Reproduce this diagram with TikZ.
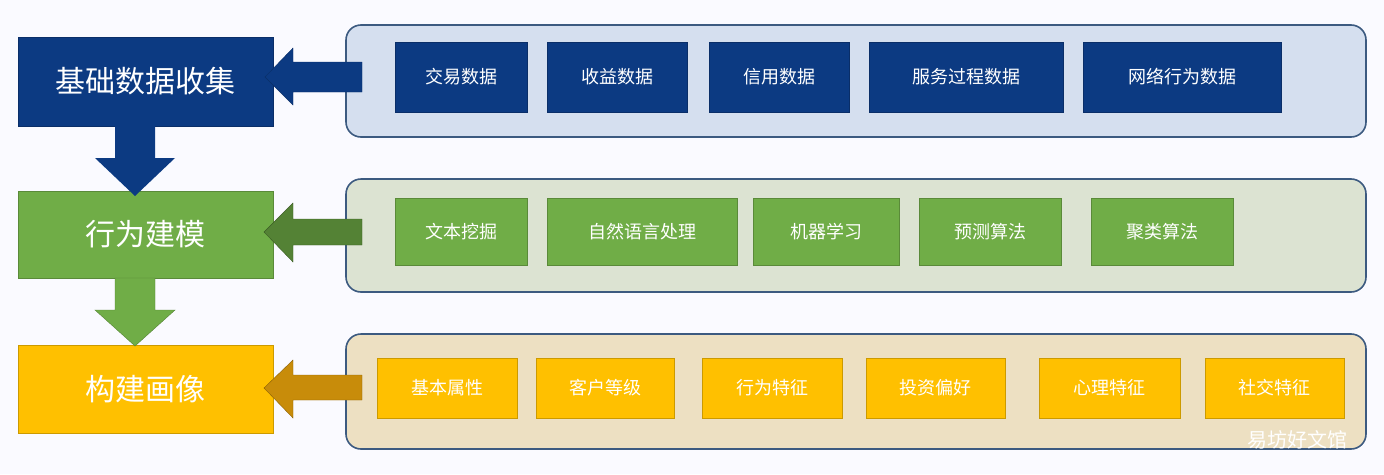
\documentclass[tikz,border=0pt]{standalone}
\usepackage{fontspec}
\setmainfont{Noto Sans CJK SC}
\begin{document}
\begin{tikzpicture}[x=1pt,y=-1pt,
  main/.style={draw=#1!80!black,fill=#1,minimum width=255pt,text=white,font=\fontsize{30}{34}\selectfont,inner sep=0pt},
  panel/.style={rounded corners=15pt,draw=#1,line width=1.6pt},
  item/.style={fill=#1,draw=#1!80!black,text=white,font=\fontsize{18}{20}\selectfont,inner sep=0pt}]
\definecolor{navy}{RGB}{12,58,130}
\definecolor{gr}{RGB}{112,173,71}
\definecolor{dgr}{RGB}{84,130,53}
\definecolor{yel}{RGB}{255,192,0}
\definecolor{dyel}{RGB}{200,140,10}
\definecolor{pb}{RGB}{213,223,239}
\definecolor{pg}{RGB}{220,227,210}
\definecolor{py}{RGB}{237,224,194}
\definecolor{pbor}{RGB}{60,90,128}
\fill[white!95!blue!40!white] (0,0) rectangle (1384,474);
\useasboundingbox (0,0) rectangle (1384,474);
% panels
\draw[panel=pbor,fill=pb] (346,25) rectangle (1366,137);
\draw[panel=pbor,fill=pg] (346,179) rectangle (1366,292);
\draw[panel=pbor,fill=py] (346,334) rectangle (1366,449);
% main boxes
\node[main=navy,minimum height=89pt] (m1) at (145.5,81.5) {基础数据收集};
\node[main=gr,minimum height=87pt] (m2) at (145.5,234.5) {行为建模};
\node[main=yel,minimum height=88pt] (m3) at (145.5,389) {构建画像};
% down arrows
\fill[navy] (115,126) -- (155,126) -- (155,158) -- (175,158) -- (135,196) -- (95,158) -- (115,158) -- cycle;
\draw[dgr,fill=gr] (115,278) -- (155,278) -- (155,310) -- (175,310) -- (135,346) -- (95,310) -- (115,310) -- cycle;
% left arrows
\draw[navy!80!black,fill=navy] (362,62) -- (293,62) -- (293,48) -- (265,77) -- (293,105) -- (293,92) -- (362,92) -- cycle;
\draw[dgr!70!black,fill=dgr] (362,219) -- (293,219) -- (293,203) -- (264,232) -- (293,262) -- (293,245) -- (362,245) -- cycle;
\draw[dyel!70!black,fill=dyel] (362,375) -- (293,375) -- (293,360) -- (264,388) -- (293,418) -- (293,400) -- (362,400) -- cycle;
% items
\foreach \a/\b/\t [count=\i] in {395/527/交易数据,547/687/收益数据,709/849/信用数据,869/1063/服务过程数据,1083/1281/网络行为数据}
  \node[item=navy,minimum width=\b-\a,minimum height=70pt] (b\i) at ({(\a+\b)/2},77) {\t};
\foreach \a/\b/\t [count=\i] in {395/527/文本挖掘,547/737/自然语言处理,753/899/机器学习,919/1061/预测算法,1091/1233/聚类算法}
  \node[item=gr,minimum width=\b-\a,minimum height=67pt] (g\i) at ({(\a+\b)/2},231.5) {\t};
\foreach \a/\b/\t [count=\i] in {377/517/基本属性,536/674/客户等级,702/842/行为特征,866/1005/投资偏好,1039/1180/心理特征,1205/1344/社交特征}
  \node[item=yel,minimum width=\b-\a,minimum height=60pt] (y\i) at ({(\a+\b)/2},388) {\t};
\node[text=white,font=\fontsize{20}{22}\selectfont,inner sep=0pt] (wm) at (1297,440) {易坊好文馆};
\end{tikzpicture}
\end{document}
